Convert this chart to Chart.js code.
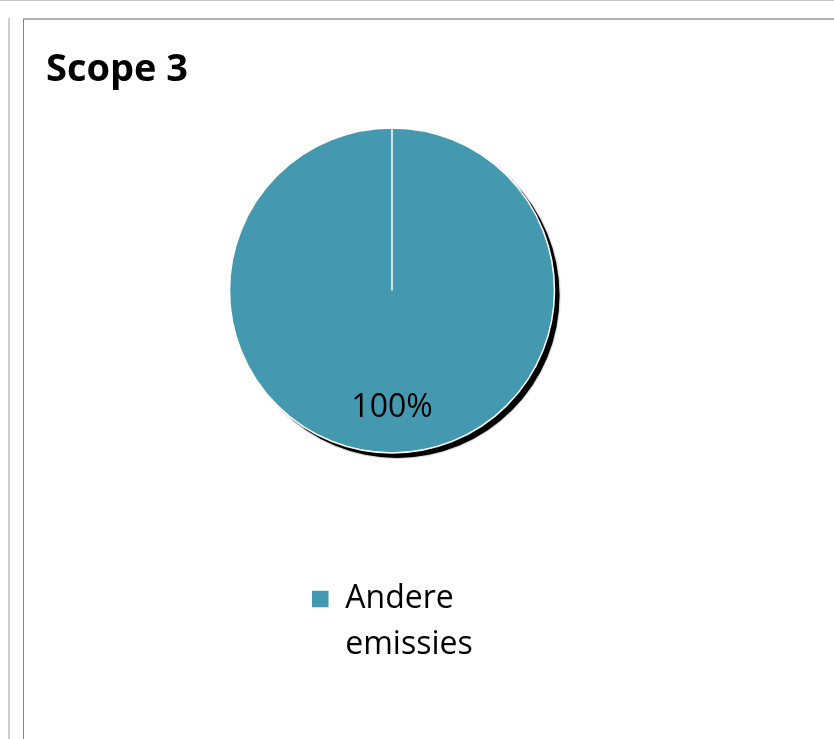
<!DOCTYPE html>
<html>
<head>
<meta charset="utf-8">
<script src="https://cdn.jsdelivr.net/npm/chart.js@4/dist/chart.umd.min.js"></script>
<style>
  html, body { margin: 0; padding: 0; background: #fff; overflow: hidden; }
  .top-line { position: absolute; left: 0; top: 0; width: 834px; height: 1px; background: #c4c4c4; }
  .left-panel { position: absolute; left: 8px; top: 18px; width: 2px; height: 721px; background: #cdcdcd; }
  .right-panel {
    position: absolute; left: 23px; top: 18px; width: 811px; height: 721px;
    border-left: 1px solid #858585; border-top: 2px solid #b2b2b2; box-sizing: border-box;
  }
  #scopeChart { display: block; }
</style>
</head>
<body>
<div class="top-line"></div>
<div class="left-panel"></div>
<div class="right-panel">
  <canvas id="scopeChart" width="810" height="719"></canvas>
</div>
<script>
// data
const categories = [["Andere", "emissies"]];
const shares = [100];
const sliceColors = ["#4499b0"];

const FONT = "'Open Sans', 'DejaVu Sans', sans-serif";

// schaduw onder de taart
const pieShadow = {
  id: "pieShadow",
  beforeDatasetsDraw(chart) {
    const arc = chart.getDatasetMeta(0).data[0];
    if (!arc) return;
    const { x, y, outerRadius } = arc.getProps(["x", "y", "outerRadius"], true);
    const ctx = chart.ctx;
    ctx.save();
    ctx.fillStyle = "#000";
    ctx.shadowColor = "rgba(0,0,0,0.6)";
    ctx.shadowBlur = 2;
    ctx.beginPath();
    ctx.arc(x + 5, y + 5, outerRadius, 0, Math.PI * 2);
    ctx.fill();
    ctx.restore();
  },
};

// percentage in de taart
const pieLabels = {
  id: "pieLabels",
  afterDatasetsDraw(chart) {
    const meta = chart.getDatasetMeta(0);
    const values = chart.data.datasets[0].data;
    const total = values.reduce((a, b) => a + b, 0);
    const ctx = chart.ctx;
    ctx.save();
    ctx.font = "32px " + FONT;
    ctx.fillStyle = "#000";
    ctx.textAlign = "center";
    ctx.textBaseline = "middle";
    meta.data.forEach((arc, i) => {
      const p = arc.getProps(["x", "y", "startAngle", "endAngle", "outerRadius"], true);
      const mid = (p.startAngle + p.endAngle) / 2;
      const r = p.outerRadius * 0.725;
      const pct = Math.round((values[i] / total) * 100) + "%";
      ctx.fillText(pct, p.x + Math.cos(mid) * r, p.y + Math.sin(mid) * r);
    });
    ctx.restore();
  },
};

// legenda met label over twee regels: hoogte en breedte corrigeren
const legendFit = {
  id: "legendFit",
  beforeUpdate(chart) {
    const legend = chart.legend;
    if (!legend || legend._patched) return;
    legend._patched = true;
    const fit = legend.fit;
    legend.fit = function () {
      fit.call(this);
      const labelOpts = this.options.labels;
      const font = Chart.helpers.toFont(labelOpts.font);
      this.ctx.save();
      this.ctx.font = font.string;
      (this.legendItems || []).forEach((item) => {
        if (!Array.isArray(item.text)) return;
        const joined = this.ctx.measureText(String(item.text)).width;
        const longest = Math.max(...item.text.map((t) => this.ctx.measureText(t).width));
        this.lineWidths[0] -= joined - longest;
        this.height += font.lineHeight * (item.text.length - 1);
      });
      this.ctx.restore();
    };
  },
};

const ctx = document.getElementById("scopeChart").getContext("2d");
new Chart(ctx, {
  type: "pie",
  data: {
    labels: categories,
    datasets: [
      {
        data: shares,
        backgroundColor: sliceColors,
        borderColor: "#ffffff",
        borderWidth: 1.5,
        radius: 162.5,
      },
    ],
  },
  options: {
    responsive: false,
    animation: false,
    layout: { padding: { left: 22, right: 96, top: 0, bottom: 68 } },
    plugins: {
      title: {
        display: true,
        text: "Scope 3",
        align: "start",
        color: "#000",
        font: { family: FONT, size: 38, weight: "bold" },
        padding: { top: 27, bottom: 10 },
      },
      legend: {
        position: "bottom",
        labels: {
          color: "#000",
          font: { family: FONT, size: 32, lineHeight: 1.44 },
          boxWidth: 18,
          boxHeight: 18,
          padding: 104.6,
        },
      },
      tooltip: { enabled: false },
    },
  },
  plugins: [legendFit, pieShadow, pieLabels],
});
</script>
</body>
</html>
